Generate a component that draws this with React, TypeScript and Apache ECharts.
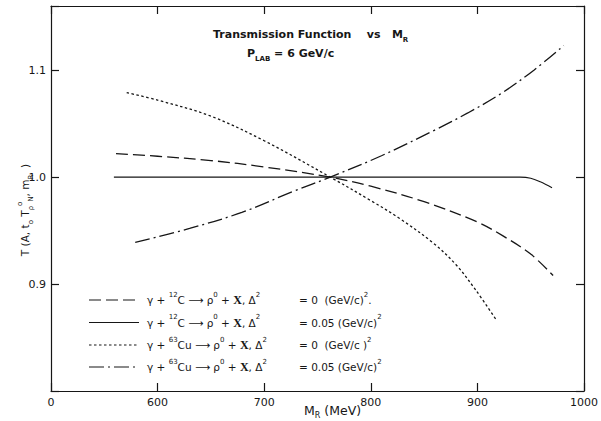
import { useEffect, useRef } from "react";
import * as echarts from "echarts";

// Axis ticks and their printed labels (suppressed-zero mass axis)
const xTickValues = [500, 600, 700, 800, 900, 1000];
const xTickLabels = ["0", "600", "700", "800", "900", "1000"];
const yTickValues = [0.9, 1.0, 1.1];
const yTickLabels = ["0.9", "1.0", "1.1"];

// γ + 12C, Δ² = 0
const c12ZeroMass = [561, 600, 650, 700, 762, 800, 850, 900, 924, 950, 971];
const c12ZeroT = [1.022, 1.0195, 1.0155, 1.0095, 1.0, 0.9915, 0.977, 0.958, 0.945, 0.928, 0.908];

// γ + 12C, Δ² = 0.05 (GeV/c)²
const c12CutMass = [559, 650, 700, 762, 800, 850, 900, 940, 950, 959, 970];
const c12CutT = [1.0, 1.0, 1.0, 1.0, 1.0, 1.0, 1.0, 1.0, 0.999, 0.9956, 0.99];

// γ + 63Cu, Δ² = 0
const cu63ZeroMass = [571, 600, 650, 700, 762, 800, 826, 859, 880, 898, 918];
const cu63ZeroT = [1.079, 1.072, 1.057, 1.034, 1.0, 0.978, 0.962, 0.938, 0.918, 0.895, 0.866];

// γ + 63Cu, Δ² = 0.05 (GeV/c)²
const cu63CutMass = [579, 630, 679, 728, 762, 810, 860, 891, 922, 953, 981];
const cu63CutT = [0.939, 0.952, 0.967, 0.987, 1.0, 1.02, 1.044, 1.06, 1.078, 1.1, 1.123];

// Legend entries: nucleus mass number, element, Δ² value text
const legendMassNumbers = ["12", "12", "63", "63"];
const legendElements = ["C", "C", "Cu", "Cu"];
const legendDelta = ["= 0  (GeV/c)", "= 0.05 (GeV/c)", "= 0  (GeV/c )", "= 0.05 (GeV/c)"];

const INK = "#161616";
const FONT = "DejaVu Sans";

const lineTypes: any[] = [[12, 5], "solid", [2.5, 2.5], [15, 4, 2, 4]];

const zip = (xs: number[], ys: number[]) => xs.map((x, i) => [x, ys[i]]);

const richBase = {
  t: { fontFamily: FONT, fontSize: 10.5, lineHeight: 18, color: INK },
  m: { fontFamily: FONT, fontSize: 12.5, lineHeight: 18, color: INK },
  b: { fontFamily: FONT, fontSize: 11, fontWeight: "bold", lineHeight: 18, color: INK },
  x: { fontFamily: "Liberation Serif", fontSize: 12, fontWeight: "bold", lineHeight: 18, color: INK },
  s: { fontFamily: FONT, fontSize: 7, lineHeight: 8, verticalAlign: "top", color: INK },
  sb: { fontFamily: FONT, fontSize: 7, fontWeight: "bold", lineHeight: 8, verticalAlign: "bottom", color: INK },
  sub: { fontFamily: FONT, fontSize: 7, lineHeight: 8, verticalAlign: "bottom", color: INK },
  subm: { fontFamily: FONT, fontSize: 8, lineHeight: 8, verticalAlign: "bottom", color: INK },
};

export default function App() {
  const ref = useRef<HTMLDivElement>(null);

  useEffect(() => {
    if (!ref.current) return;
    const chart = echarts.init(ref.current, undefined, { renderer: "svg" });

    const axisLine = { show: true, onZero: false, lineStyle: { color: INK, width: 1.2 } };
    const axisTick = { show: true, inside: true, length: 8, lineStyle: { color: INK, width: 1.2 } };

    const legendRowsY = [300, 322.5, 345, 367];
    const legendGraphics: any[] = [];
    legendRowsY.forEach((y, i) => {
      legendGraphics.push({
        type: "line",
        shape: { x1: 89, y1: y, x2: 139, y2: y },
        style: { stroke: INK, lineWidth: 1.2, lineDash: lineTypes[i] === "solid" ? null : lineTypes[i] },
      });
      legendGraphics.push({
        type: "text",
        x: 147,
        y,
        style: {
          text: `{t|γ + }{s|${legendMassNumbers[i]}}{t|${legendElements[i]} ⟶ ρ}{s|0}{t| + }{x|X}{t|, Δ}{s|2}`,
          rich: richBase,
          verticalAlign: "middle",
          fill: INK,
        },
      });
      legendGraphics.push({
        type: "text",
        x: 299,
        y,
        style: {
          text: `{t|${legendDelta[i]}}{s|2}${i === 0 ? "{t|.}" : ""}`,
          rich: richBase,
          verticalAlign: "middle",
          fill: INK,
        },
      });
    });

    chart.setOption({
      animation: false,
      backgroundColor: "#ffffff",
      grid: { left: 51, right: 8, top: 6, bottom: 30 },
      xAxis: [
        {
          type: "value",
          min: 500,
          max: 1000,
          interval: 100,
          axisLine,
          axisTick,
          splitLine: { show: false },
          axisLabel: {
            margin: 6,
            color: INK,
            fontFamily: FONT,
            fontSize: 11,
            formatter: (v: number) => {
              const i = xTickValues.findIndex((t) => Math.abs(t - v) < 1e-6);
              return i >= 0 ? xTickLabels[i] : "";
            },
          },
        },
        {
          type: "value",
          position: "top",
          min: 500,
          max: 1000,
          interval: 100,
          axisLine,
          axisTick,
          splitLine: { show: false },
          axisLabel: { show: false },
        },
      ],
      yAxis: [
        {
          type: "value",
          min: 0.8,
          max: 1.16,
          interval: 0.1,
          axisLine,
          axisTick,
          splitLine: { show: false },
          axisLabel: {
            margin: 5,
            color: INK,
            fontFamily: FONT,
            fontSize: 11,
            formatter: (v: number) => {
              const i = yTickValues.findIndex((t) => Math.abs(t - v) < 1e-6);
              return i >= 0 ? yTickLabels[i] : "";
            },
          },
        },
        {
          type: "value",
          position: "right",
          min: 0.8,
          max: 1.16,
          interval: 0.1,
          axisLine,
          axisTick,
          splitLine: { show: false },
          axisLabel: { show: false },
        },
      ],
      series: [
        { data: zip(c12ZeroMass, c12ZeroT), width: 1.3 },
        { data: zip(c12CutMass, c12CutT), width: 1.1 },
        { data: zip(cu63ZeroMass, cu63ZeroT), width: 1.3 },
        { data: zip(cu63CutMass, cu63CutT), width: 1.3 },
      ].map((s, i) => ({
        type: "line",
        xAxisIndex: 0,
        yAxisIndex: 0,
        data: s.data,
        smooth: 0.35,
        symbol: "none",
        silent: true,
        lineStyle: { color: INK, width: s.width, type: lineTypes[i] },
      })),
      graphic: [
        {
          type: "text",
          x: 213,
          y: 34,
          style: {
            text: "{b|Transmission Function    vs   M}{sb|R}",
            rich: richBase,
            verticalAlign: "middle",
            fill: INK,
          },
        },
        {
          type: "text",
          x: 247,
          y: 53,
          style: {
            text: "{b|P}{sb|LAB}{b| = 6 GeV/c}",
            rich: richBase,
            verticalAlign: "middle",
            fill: INK,
          },
        },
        {
          type: "text",
          x: 304,
          y: 410,
          style: {
            text: "{m|M}{subm|R}{m| (MeV)}",
            rich: richBase,
            verticalAlign: "middle",
            fill: INK,
          },
        },
        {
          type: "text",
          x: 25,
          y: 210,
          rotation: Math.PI / 2,
          style: {
            text: "{t|T (A, t}{sub|o}{t| T}{sub|ρ}{s|o}{sub|N}{t|, m}{sub|R}{t|  )}",
            rich: richBase,
            align: "center",
            verticalAlign: "middle",
            fill: INK,
          },
        },
        ...legendGraphics,
      ],
    });

    return () => chart.dispose();
  }, []);

  return <div ref={ref} style={{ width: 601, height: 421, position: "absolute", left: 0, top: 0 }} />;
}
